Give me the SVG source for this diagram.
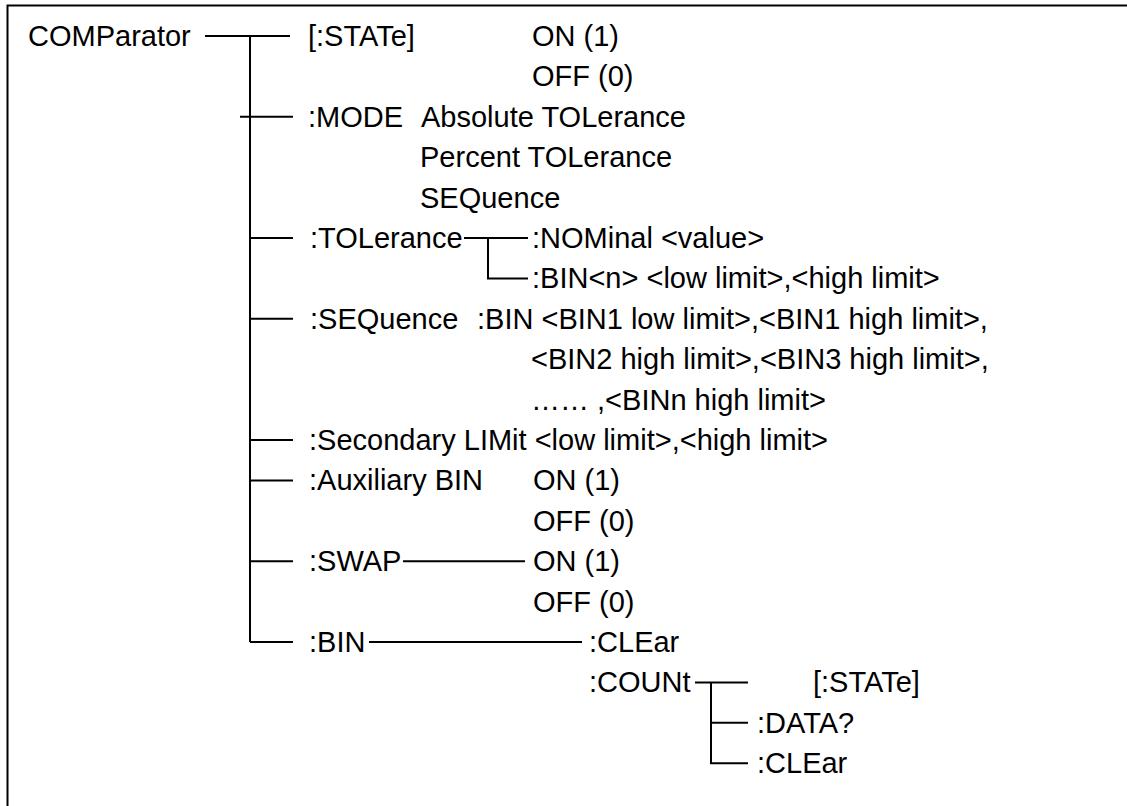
<svg xmlns="http://www.w3.org/2000/svg" width="1127" height="806" viewBox="0 0 1127 806">
<style>
text{font-family:"Liberation Sans",Arial,sans-serif;font-size:29px;fill:#000}
.c line,.c path{stroke:#000;stroke-width:2;fill:none}
</style>
<rect width="1127" height="806" fill="#fff"/>
<path d="M7.5,806 V5.5 H1127" stroke="#000" stroke-width="2" fill="none"/>
<g class="c" id="connectors">
<line x1="205" y1="36" x2="290" y2="36"/>
<line x1="250" y1="36" x2="250" y2="642"/>
<line x1="240" y1="116.8" x2="293" y2="116.8"/>
<line x1="250" y1="238" x2="293" y2="238"/>
<line x1="250" y1="318.8" x2="293" y2="318.8"/>
<line x1="250" y1="440" x2="293" y2="440"/>
<line x1="250" y1="480.4" x2="293" y2="480.4"/>
<line x1="249" y1="561.2" x2="293" y2="561.2"/>
<path d="M250,642 H293"/>
<line x1="464" y1="238" x2="528" y2="238"/>
<path d="M488,238 V278.4 H528"/>
<line x1="403" y1="561.2" x2="525" y2="561.2"/>
<line x1="369" y1="642" x2="582" y2="642"/>
<line x1="695" y1="682.4" x2="748" y2="682.4"/>
<path d="M711,682.4 V763.2 H748"/>
<line x1="711" y1="722.8" x2="748" y2="722.8"/>
</g>
<g id="root"><text x="28" y="46">COMParator</text></g>
<g id="state"><text x="308" y="46">[:STATe]</text><text x="532" y="46">ON (1)</text><text x="532" y="86.4">OFF (0)</text></g>
<g id="mode"><text x="308" y="126.8">:MODE</text><text x="421" y="126.8">Absolute TOLerance</text><text x="420" y="167.2">Percent TOLerance</text><text x="420" y="207.6">SEQuence</text></g>
<g id="tolerance"><text x="310" y="248">:TOLerance</text><text x="532" y="248">:NOMinal &lt;value&gt;</text><text x="532" y="288.4">:BIN&lt;n&gt; &lt;low limit&gt;,&lt;high limit&gt;</text></g>
<g id="sequence"><text x="310" y="328.8">:SEQuence</text><text x="477" y="328.8">:BIN &lt;BIN1 low limit&gt;,&lt;BIN1 high limit&gt;,</text><text x="531" y="369.2">&lt;BIN2 high limit&gt;,&lt;BIN3 high limit&gt;,</text><text x="531" y="409.6">…… ,&lt;BINn high limit&gt;</text></g>
<g id="secondary"><text x="309" y="450">:Secondary LIMit &lt;low limit&gt;,&lt;high limit&gt;</text></g>
<g id="auxiliary"><text x="309" y="490.4">:Auxiliary BIN</text><text x="533" y="490.4">ON (1)</text><text x="533" y="530.8">OFF (0)</text></g>
<g id="swap"><text x="309" y="571.2">:SWAP</text><text x="533" y="571.2">ON (1)</text><text x="533" y="611.6">OFF (0)</text></g>
<g id="bin"><text x="309" y="652">:BIN</text><text x="589" y="652">:CLEar</text><text x="589" y="692.4">:COUNt</text></g>
<g id="count"><text x="813" y="692.4">[:STATe]</text><text x="757" y="732.8">:DATA?</text><text x="757" y="773.2">:CLEar</text></g>
</svg>
